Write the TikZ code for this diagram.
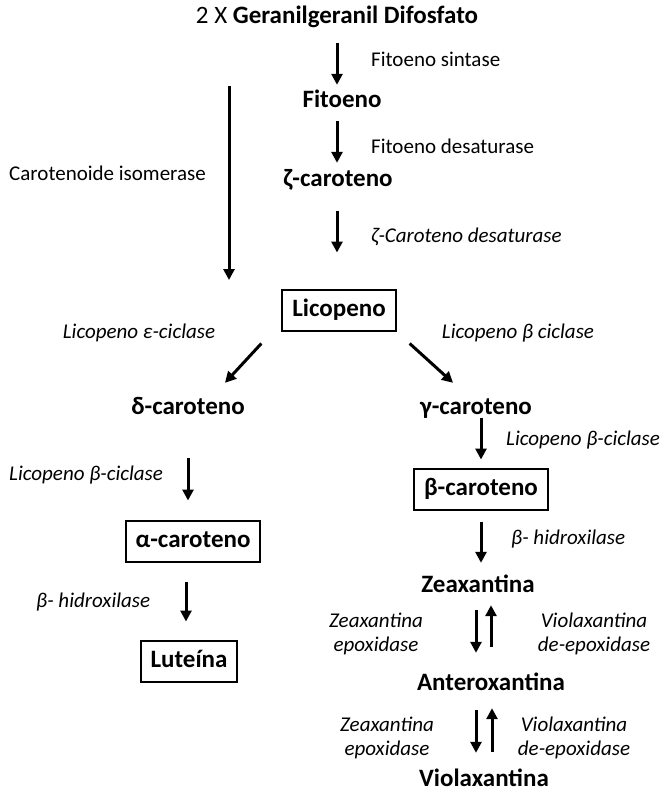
\documentclass[tikz,border=0pt]{standalone}
\usepackage{fontspec}
\setmainfont{Carlito}
\usepackage{tikz}
\usetikzlibrary{arrows.meta, calc}

\tikzset{
  mol/.style={font=\bfseries\fontsize{25}{28}\selectfont, inner sep=0pt, text height=18pt, text depth=6pt},
  molbox/.style={mol, draw, line width=2pt, inner xsep=10pt, minimum height=41pt},
  enz/.style={font=\fontsize{21}{24}\selectfont, inner sep=0pt},
  enzit/.style={enz, font=\itshape\fontsize{21}{24}\selectfont},
  arr/.style={-{Triangle[length=11pt,width=11pt]}, line width=3pt},
}

\begin{document}
\begin{tikzpicture}[x=1pt, y=-1pt]
    \useasboundingbox (0,0) rectangle (662,792);

    \node[mol] (title) at (337,18) {\mdseries 2 X \bfseries Geranilgeranil Difosfato};
    \node[mol] (fito) at (342,101) {Fitoeno};
    \node[mol] (zeta) at (338,180) {ζ-caroteno};
    \node[molbox] (lico) at (339,310) {Licopeno};
    \node[mol] (delta) at (188,408) {δ-caroteno};
    \node[mol] (gamma) at (476,408) {γ-caroteno};
    \node[molbox] (beta) at (481,489) {β-caroteno};
    \node[molbox] (alpha) at (193,541) {α-caroteno};
    \node[molbox] (lute) at (189,661) {Luteína};
    \node[mol] (zea) at (478,586) {Zeaxantina};
    \node[mol] (antero) at (491,684) {Anteroxantina};
    \node[mol] (viola) at (484,780) {Violaxantina};

    \node[enz, anchor=west] (sint) at (371,59) {Fitoeno sintase};
    \node[enz, anchor=west] (fdes) at (371,146) {Fitoeno desaturase};
    \node[enzit, anchor=west] (zdes) at (371,237) {ζ-Caroteno desaturase};
    \node[enz, anchor=west] (isom) at (9,173) {Carotenoide isomerase};
    \node[enzit] (lecic) at (139,333) {Licopeno ε-ciclase};
    \node[enzit] (lbcic) at (518,333) {Licopeno β ciclase};
    \node[enzit, anchor=west] (lbcicr) at (506,440) {Licopeno β-ciclase};
    \node[enzit, anchor=west] (lbcicl) at (9,475) {Licopeno β-ciclase};
    \node[enzit, anchor=west] (hidr) at (511,539) {β- hidroxilase};
    \node[enzit, anchor=west] (hidl) at (36,602) {β- hidroxilase};
    \node[enzit, align=center] (zep1) at (376,634) {Zeaxantina\\epoxidase};
    \node[enzit, align=center] (vde1) at (594,634) {Violaxantina\\de-epoxidase};
    \node[enzit, align=center] (zep2) at (387,738) {Zeaxantina\\epoxidase};
    \node[enzit, align=center] (vde2) at (574,738) {Violaxantina\\de-epoxidase};

    \coordinate (isotop) at (229,86);
    \coordinate (isobot) at (229,280);

    \draw[arr] ($(title.south)+(0,13)$) -- ($(fito.north)+(-5,-4)$);
    \draw[arr] ($(fito.south)+(-5,8)$) -- ($(zeta.north)+(-1,-5)$);
    \draw[arr] ($(zeta.south)+(-1,19)$) -- ($(lico.north)+(-2,-36)$);
    \draw[arr] (isotop) -- (isobot);
    \draw[arr] ($(lico.south west)+(-20,12)$) -- ($(delta.north)+(37,-13)$);
    \draw[arr] ($(lico.south east)+(13,12)$) -- ($(gamma.north)+(-23,-13)$);
    \draw[arr] ($(gamma.south)+(5,-2)$) -- ($(beta.north)+(0,-8)$);
    \draw[arr] ($(delta.south)+(0,38)$) -- ($(alpha.north)+(-5,-19)$);
    \draw[arr] ($(alpha.south)+(-7,19)$) -- ($(lute.north)+(-3,-18)$);
    \draw[arr] ($(beta.south)+(0,11)$) -- ($(zea.north)+(3,-11)$);
    \draw[arr] ($(zea.south)+(-2,12)$) -- ($(antero.north)+(-15,-19)$);
    \draw[arr] ($(antero.north)+(0,-25)$) -- ($(zea.south)+(13,7)$);
    \draw[arr] ($(antero.south)+(-15,14)$) -- ($(viola.north)+(-8,-15)$);
    \draw[arr] ($(viola.north)+(8,-16)$) -- ($(antero.south)+(1,12)$);
  \end{tikzpicture}
\end{document}
